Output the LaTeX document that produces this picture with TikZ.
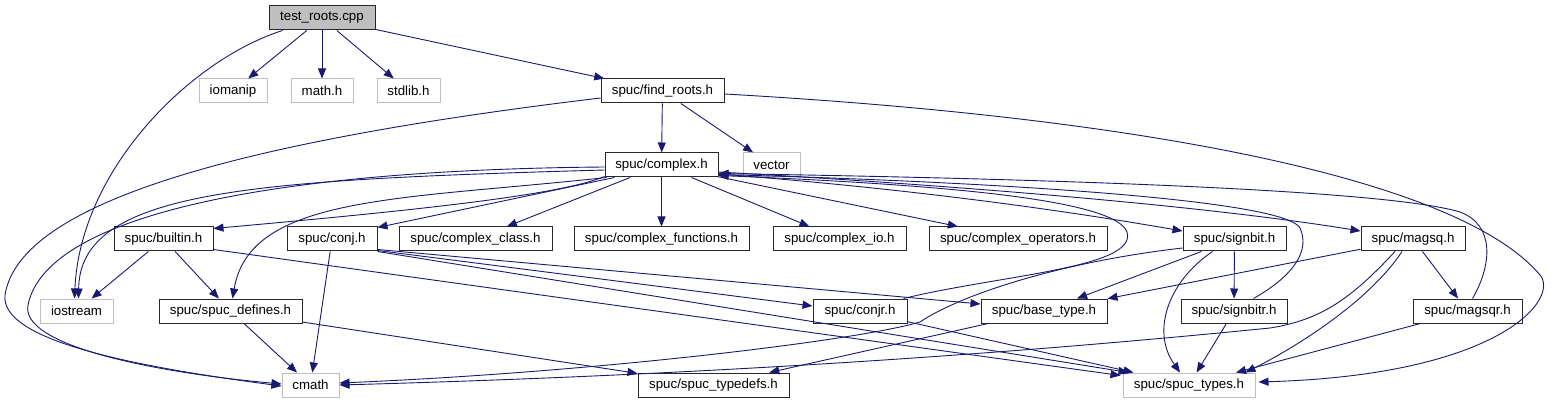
\documentclass[tikz,border=0pt]{standalone}
\usepackage{fontspec}
\setmainfont{Liberation Sans}
\usetikzlibrary{arrows.meta,calc}
\definecolor{edgec}{RGB}{25,25,112}
\definecolor{sysgray}{RGB}{191,191,191}
\definecolor{boxline}{RGB}{40,40,40}
\begin{document}
\begin{tikzpicture}[x=1pt,y=-1pt,
  box/.style={draw=boxline, line width=1pt, minimum height=24pt, inner sep=0pt, font=\fontsize{13.3}{16}\selectfont},
  sys/.style={box, draw=sysgray},
  root/.style={box, fill=sysgray},
  edge/.style={draw=edgec, line width=0.9pt, -{Triangle[length=10pt,width=8pt]}}]
\useasboundingbox (0,0) rectangle (1554,403);
% row 1
\node[root, minimum width=106pt] (tr) at (322,18) {test\_roots.cpp};
% row 2
\node[sys, minimum width=68pt] (iom) at (233,91) {iomanip};
\node[sys, minimum width=62pt] (mth) at (322,91) {math.h};
\node[sys, minimum width=63pt] (stl) at (408.5,91) {stdlib.h};
\node[box, minimum width=123pt] (fr) at (662.5,91) {spuc/find\_roots.h};
% row 3
\node[box, minimum width=113pt] (cx) at (661.5,165) {spuc/complex.h};
\node[sys, minimum width=57pt] (vec) at (771.5,165) {vector};
% row 4
\node[box, minimum width=99pt] (bi) at (163.5,239) {spuc/builtin.h};
\node[box, minimum width=90pt] (cj) at (332,239) {spuc/conj.h};
\node[box, minimum width=153pt] (cc) at (475.5,239) {spuc/complex\_class.h};
\node[box, minimum width=175pt] (cf) at (661.5,239) {spuc/complex\_functions.h};
\node[box, minimum width=133pt] (cio) at (839.5,239) {spuc/complex\_io.h};
\node[box, minimum width=178pt] (cop) at (1018,239) {spuc/complex\_operators.h};
\node[box, minimum width=103pt] (sb) at (1234.5,239) {spuc/signbit.h};
\node[box, minimum width=104pt] (ms) at (1413,239) {spuc/magsq.h};
% row 5
\node[sys, minimum width=73pt] (ios) at (76.5,311) {iostream};
\node[box, minimum width=143pt] (sd) at (230.5,311) {spuc/spuc\_defines.h};
\node[box, minimum width=94pt] (cjr) at (860,311) {spuc/conjr.h};
\node[box, minimum width=126pt] (bt) at (1044,311) {spuc/base\_type.h};
\node[box, minimum width=106pt] (sbr) at (1234,311) {spuc/signbitr.h};
\node[box, minimum width=109pt] (msr) at (1467.5,311) {spuc/magsqr.h};
% row 6
\node[sys, minimum width=57pt] (cm) at (310.5,385) {cmath};
\node[box, minimum width=151pt] (td) at (713.5,385) {spuc/spuc\_typedefs.h};
\node[sys, minimum width=132pt] (st) at (1189,385) {spuc/spuc\_types.h};

% edges from test_roots.cpp
\draw[edge] ($(tr.south west)+(14,0)$) .. controls (190,60) and (80,170) .. ($(ios.north)+(-2,0)$);
\draw[edge] (tr) -- (iom);
\draw[edge] (tr) -- (mth);
\draw[edge] (tr) -- (stl);
\draw[edge] (tr) -- (fr);
% edges from find_roots.h
\draw[edge] ($(fr.west)+(0,7)$) .. controls (250,140) and (20,200) .. (5,295) .. controls (0,340) and (130,366) .. ($(cm.west)+(0,1)$);
\draw[edge] (fr) -- (cx);
\draw[edge] (fr) -- (vec);
\draw[edge] ($(fr.east)+(0,3)$) .. controls (1150,118) and (1460,180) .. (1540,275) .. controls (1560,299) and (1500,375) .. ($(st.east)+(3,-3)$);
% edges from complex.h
\draw[edge] ($(cx.west)+(0,5)$) .. controls (250,180) and (80,190) .. ($(ios.north)+(2,0)$);
\draw[edge] ($(cx.west)+(0,2)$) .. controls (250,170) and (45,220) .. (28,305) .. controls (20,345) and (150,372) .. ($(cm.west)+(0,-1)$);
\draw[edge] ($(cx.south west)+(2,0)$) .. controls (400,200) and (250,195) .. ($(sd.north)+(2,0)$);
\draw[edge] ($(cx.south west)+(0,-1)$) .. controls (560,195) and (420,210) .. ($(bi.north east)+(0,2)$);
\draw[edge] ($(cx.south west)+(10,0)$) -- ($(cj.north east)+(0,1)$);
\draw[edge] (cx) -- (cc);
\draw[edge] (cx) -- (cf);
\draw[edge] (cx) -- (cio);
\draw[edge] (cx) -- (cop);
\draw[edge] ($(cx.east)+(0,9)$) .. controls (900,188) and (1050,208) .. ($(sb.west)+(0,-8)$);
\draw[edge] ($(cx.east)+(0,7)$) .. controls (950,185) and (1200,205) .. ($(ms.west)+(0,-8)$);
% back edges to complex.h
\draw[edge] ($(cjr.north east)+(-4,0)$) .. controls (1000,275) and (1138,268) .. (1127,232) .. controls (1115,200) and (950,185) .. ($(cx.south east)+(0,-2)$);
\draw[edge] ($(sbr.north east)+(-34,0)$) .. controls (1295,275) and (1310,250) .. (1300,228) .. controls (1285,200) and (1000,182) .. ($(cx.south east)+(0,-3)$);
\draw[edge] ($(msr.north)+(5,0)$) .. controls (1492,265) and (1495,225) .. (1460,212) .. controls (1380,188) and (1000,178) .. ($(cx.south east)+(0,-4)$);
% builtin.h
\draw[edge] (bi) -- (ios);
\draw[edge] (bi) -- (sd);
\draw[edge] ($(bi.south east)+(0,-2)$) -- ($(st.north west)+(-2,3)$);
% conj.h
\draw[edge] (cj) -- (cm);
\draw[edge] ($(cj.south east)+(0,-1)$) -- ($(cjr.west)+(0,-5)$);
\draw[edge] ($(cj.south east)+(0,-2)$) -- ($(bt.west)+(0,-7)$);
\draw[edge] (cj.south east) -- ($(st.north west)+(6,0)$);
% spuc_defines.h
\draw[edge] (sd) -- (cm);
\draw[edge] (sd) -- (td);
% conjr.h
\draw[edge] (cjr) -- (st);
% base_type.h
\draw[edge] (bt) -- (td);
% signbit.h
\draw[edge] (sb) -- (bt);
\draw[edge] (sb) -- (sbr);
\draw[edge] ($(sb.south)+(-22,0)$) .. controls (1170,280) and (1150,330) .. ($(st.north)+(-9,0)$);
\draw[edge] ($(sb.west)+(0,9)$) .. controls (1060,262) and (960,295) .. (920,322) .. controls (860,340) and (600,372) .. ($(cm.east)+(0,-2)$);
% magsq.h
\draw[edge] (ms) -- (bt);
\draw[edge] (ms) -- (msr);
\draw[edge] ($(ms.south)+(-11,0)$) .. controls (1370,300) and (1300,345) .. ($(st.north east)+(-10,0)$);
\draw[edge] ($(ms.south)+(-18,0)$) .. controls (1350,300) and (1320,320) .. (1270,328) .. controls (1000,355) and (700,375) .. ($(cm.east)+(0,0)$);
% signbitr.h, magsqr.h
\draw[edge] (sbr) -- (st);
\draw[edge] (msr) -- (st);
\end{tikzpicture}
\end{document}
